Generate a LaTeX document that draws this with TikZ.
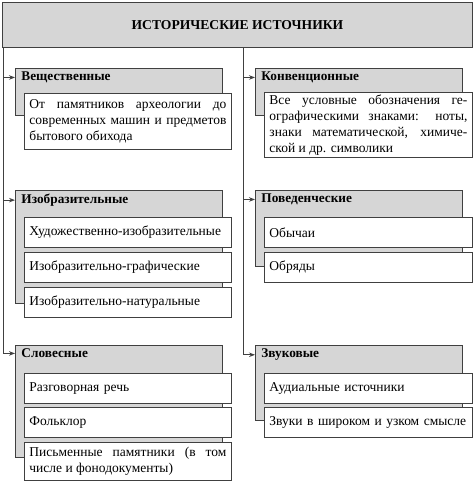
\documentclass[tikz,border=0pt]{standalone}
\usepackage{fontspec}
\setmainfont{Liberation Serif}
\usetikzlibrary{arrows.meta}

\definecolor{lineclr}{HTML}{404040}
\definecolor{headclr}{HTML}{D6D6D6}

\begin{document}
\begin{tikzpicture}[x=1pt, y=-1pt, line width=0.9pt, draw=lineclr,
        >={Stealth[length=6pt, width=4.5pt]},
        font=\fontsize{13.5}{16}\selectfont,
        topbox/.style={draw=lineclr, fill=headclr, anchor=north west, minimum width=470pt, minimum height=45pt, inner sep=0pt},
        headbox/.style={draw=lineclr, fill=headclr, anchor=north west, minimum width=207pt, inner sep=0pt},
        headlabel/.style={anchor=north west, inner xsep=6pt, inner ysep=3.5pt, font=\fontsize{13.3}{16}\selectfont\bfseries},
        item/.style={draw=lineclr, fill=white, anchor=north west, minimum width=207pt, minimum height=30pt, text width=197pt, inner xsep=5pt, inner ysep=2pt, align=left},
        ritem/.style={item, minimum width=208pt, text width=198pt},
        longitem/.style={item, align=justify},
        rlongitem/.style={ritem, align=justify}]

    \useasboundingbox (0,0) rectangle (474,482);

    % Title
    \node[topbox] (top) at (2,2) {\fontsize{13.6}{16}\selectfont\bfseries ИСТОРИЧЕСКИЕ ИСТОЧНИКИ};
    \coordinate (lspine) at ([xshift=1pt]top.south west);
    \coordinate (rspine) at (top.south -| 243,0);

    % Left column
    \node[headbox, minimum height=47pt] (veshch) at (15,68) {};
    \node[headlabel] (veshch-t) at (veshch.north west) {Вещественные};
    \node[longitem, minimum height=56pt] (veshch-1) at (24,93) {От памятников археологии до\linebreak современных машин и предметов\linebreak бытового обихода};

    \node[headbox, minimum height=113pt] (izob) at (15,190) {};
    \node[headlabel] (izob-t) at (izob.north west) {Изобразительные};
    \node[item] (izob-1) at (24,217) {Художественно-изобразительные};
    \node[item] (izob-2) at (24,252) {Изобразительно-графические};
    \node[item] (izob-3) at (24,287) {Изобразительно-натуральные};

    \node[headbox, minimum height=112pt] (slov) at (15,345) {};
    \node[headlabel] (slov-t) at (slov.north west) {Словесные};
    \node[item] (slov-1) at (24,373) {Разговорная речь};
    \node[item] (slov-2) at (24,407) {Фольклор};
    \node[longitem, minimum height=38pt] (slov-3) at (24,442) {Письменные памятники (в том\linebreak числе и фонодокументы)};

    % Right column
    \node[headbox, minimum height=47pt] (konv) at (255,68) {};
    \node[headlabel] (konv-t) at (konv.north west) {Конвенционные};
    \node[rlongitem, minimum height=65pt] (konv-1) at (264,92) {Все условные обозначения ге-\linebreak ографическими знаками: ноты,\linebreak знаки математической, химиче-\linebreak ской и др. символики};

    \node[headbox, minimum height=76pt] (pov) at (255,190) {};
    \node[headlabel] (pov-t) at (pov.north west) {Поведенческие};
    \node[ritem] (pov-1) at (264,217) {Обычаи};
    \node[ritem] (pov-2) at (264,252) {Обряды};

    \node[headbox, minimum height=75pt] (zvuk) at (255,345) {};
    \node[headlabel] (zvuk-t) at (zvuk.north west) {Звуковые};
    \node[ritem] (zvuk-1) at (264,373) {Аудиальные источники};
    \node[ritem] (zvuk-2) at (264,407) {Звуки в широком и узком смысле};

    % Connectors
    \draw[->] (lspine) |- (slov-t.west);
    \draw[->] (lspine |- veshch-t.west) -- (veshch-t.west);
    \draw[->] (lspine |- izob-t.west) -- (izob-t.west);
    \draw[->] (rspine) |- (zvuk-t.west);
    \draw[->] (rspine |- konv-t.west) -- (konv-t.west);
    \draw[->] (rspine |- pov-t.west) -- (pov-t.west);
\end{tikzpicture}
\end{document}
